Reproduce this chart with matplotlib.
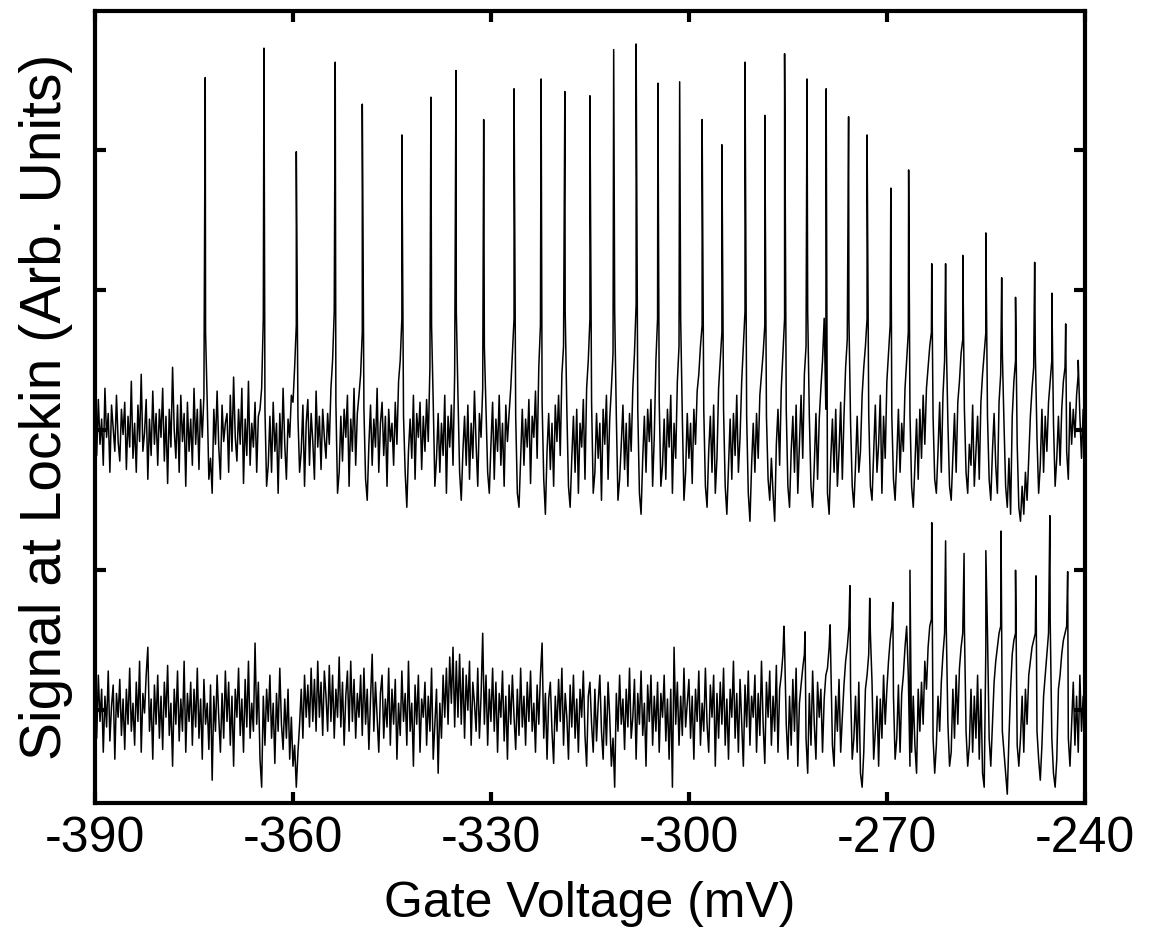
import numpy as np
import matplotlib
matplotlib.use("Agg")
import matplotlib.pyplot as plt

plt.rcParams["font.family"] = ["Liberation Sans", "DejaVu Sans"]

# sweep: gate voltage in mV, 0.25 mV steps
x_start, x_stop = -390.0, -240.0

# upper trace: noise (hundredths, around its own baseline) + resonance peaks
upper_base = 2.0
upper_noise = [
    5, -18, 22, -10, 8, -25, 30, -5, 12, -30, 18, 2, -15, 25, -8, -22, 15, -3, 20, -28,
    10, -12, 35, -20, 5, -30, 18, -8, 40, -15, -2, 22, -35, 8, -18, 28, -10, 12, -25, 15,
    -5, 30, -22, 10, -38, 15, -12, 45, 0, -20, 18, -30, 25, -8, 12, -40, 20, -15, 8, -25,
    30, -10, 15, -28, 22, -5, 25, 70, 20, -35, -20, -45, 15, -10, 28, -12, -35, 18, -8, 5,
    12, -30, 25, -15, 38, -5, -22, 15, -10, 30, -38, 8, -18, 35, -25, 5, -12, 20, -30, 10,
    15, 30, 80, 15, -40, -25, 10, -30, 20, -15, 5, -45, 12, -20, 30, -10, -35, 8, -5, 25,
    20, 45, 75, 10, -30, -15, 18, -40, 5, 22, -25, 12, -8, -35, 28, -12, 10, -28, 15, -5,
    -20, 12, -10, 30, 50, 85, 20, -45, -30, 10, -22, 15, -5, 25, -40, 8, -15, 30, -25, 12,
    25, 40, 70, 15, -35, -50, -10, 18, -25, 8, -12, 30, -30, 5, 20, -18, 10, -40, 15, -8,
    5, -25, 20, -10, 35, 50, 80, 10, -30, -55, -15, 8, -20, 25, -35, 12, -5, 20, -28, 10,
    -15, 22, -8, 45, 75, 20, -40, -20, 12, -30, 5, -18, 25, -45, 10, -12, 18, -25, 40, 85,
    25, -30, -50, -15, 10, -25, 18, -35, 5, -20, 28, -10, -40, 12, -5, 30, 60, 15, -30, -45,
    -10, 20, -35, 8, -15, 25, -25, 5, -40, 18, -8, 12, 30, 55, 80, 10, -45, -55, -20, 15,
    -25, 8, -12, 22, -38, 10, -5, 28, -20, 45, 75, 20, -35, -60, -15, 12, -28, 5, -40, 18,
    -8, 25, -18, 40, 60, 85, 15, -40, -55, -20, 10, -30, 15, -45, 5, -12, 22, -35, 30, 50,
    80, 20, -45, -30, 12, -20, 5, -50, 15, -10, 25, -35, 8, 30, 55, 85, 10, -50, -35, -10,
    18, -28, 5, -40, 12, -15, 30, 55, 90, 15, -45, -60, -20, 10, -30, 15, -8, 22, -40, -5,
    50, 80, 20, -40, -25, 8, -35, 15, -12, 25, -45, 5, -20, 35, 60, 80, 10, -50, -30, 12,
    -20, 5, -38, 15, -10, 28, 40, 60, 75, 15, -40, -55, -15, 10, -30, 18, -45, -20, 30, 50,
    70, 15, -40, -60, -25, 8, -35, 12, -18, 25, -30, -5, 35, 60, 85, 10, -45, -65, -25, 5,
    -30, 12, -20, 25, 40, 55, 75, 10, -35, -50, -20, -45, -65, -10, 15, -25, 30, 55, 80, 15,
    -40, -55, -15, 10, -30, 18, -45, -10, 25, -20, 40, 60, 85, 10, -40, -55, -25, 12, -35, 8,
    30, 50, 80, 15, -45, -60, -20, 8, -30, 15, -40, -15, 20, -35, 10, 45, 65, 80, 5, -40,
    -55, -25, 10, -30, -15, 25, 45, 60, 80, 12, -40, -50, -15, 18, -30, -10, 25, -45, 10, -20,
    35, 55, 75, 10, -35, -50, -20, 15, -30, 5, -15, 30, 50, 70, 12, -40, -55, -25, 8, -35,
    15, -20, 25, -10, 30, 45, 60, 70, 10, -35, -45, -15, 20, -30, 25, 50, 65, 5, -40, -50,
    -20, 12, -30, 20, 35, 55, 65, 15, -30, -45, -10, -25, 18, -40, -15, 10, -35, 20, 40, 55,
    70, 10, -35, -50, -15, 12, -25, -45, 20, 40, 55, 5, -40, -55, -20, -60, 10, 35, 50, -10,
    -55, -65, -40, -60, -30, -50, -20, 10, 30, 45, 55, -5, -45, -25, 15, -30, 10, -15, 20, 35,
    50, 5, -40, -20, 10, -25, 15, 35, 45, -15, -35, 20, -10, 15, -5, 25, 40, 10, -20, 15,
    5,
]
upper_peak_x = [-373.3, -364.4, -359.5, -353.6, -349.5, -343.5, -339.1, -335.3, -331.1,
                -326.5, -322.4, -318.8, -315.0, -311.4, -308.0, -304.7, -301.4, -298.0,
                -295.0, -291.5, -288.5, -285.5, -282.1, -279.2, -275.8, -273.0, -269.4,
                -266.7, -263.2, -261.1, -258.5, -255.0, -252.6, -250.5, -247.6, -245.0,
                -242.9, -241.0]
upper_peak_y = [4.52, 4.73, 3.99, 4.63, 4.33, 4.11, 4.38, 4.57, 4.22,
                4.44, 4.51, 4.42, 4.39, 4.72, 4.76, 4.48, 4.49, 4.22,
                4.04, 4.63, 4.25, 4.69, 4.51, 4.44, 4.24, 4.11, 3.73,
                3.86, 3.19, 3.19, 3.25, 3.41, 3.09, 2.95, 3.20, 2.98,
                2.76, 2.50]

# lower trace
lower_base = 0.0
lower_noise = [
    5, -20, 25, -8, 15, -30, 10, -12, 28, -22, 3, 18, -35, 12, -5, 22, -18, 8, -28, 15,
    -10, 30, -15, 5, -25, 20, -8, 35, -30, 12, -2, 25, 45, -15, 8, -35, 18, -10, 25, -20,
    10, -28, 20, -5, 32, -18, 5, -40, 15, -10, 28, -22, 8, -15, 35, -30, 12, -8, 20, -25,
    15, -12, 30, -20, 8, -35, 22, -10, 5, -28, 18, -50, 10, -15, 25, -5, -30, 12, -20, 28,
    -8, 20, -25, 10, -40, 15, -5, 30, -18, 8, -30, 22, -12, 35, -20, 5, -15, 48, -10, 20,
    -35, -55, 10, -25, 15, -8, 25, -20, 5, -38, 12, -15, 30, -10, -28, 8, -20, 15, -35, -5,
    -40, -25, -55, -30, -10, 15, -20, 25, -5, 18, -12, 30, -8, 22, -15, 35, -5, 20, -18, 28,
    10, -15, 32, -8, 25, -20, 15, -5, 38, -12, 20, -25, 10, 28, -15, 35, -8, 22, -20, 12,
    -5, 25, -18, 30, -10, 15, -28, 8, 40, -15, 20, -5, -30, 12, 25, -20, 8, -12, 30, -25,
    15, -10, 22, -35, 5, -18, 28, -8, 12, -25, 35, -15, 5, -40, 18, -10, 25, -30, 8, -5,
    20, -25, 10, -15, 30, -35, -10, 15, -45, 5, -20, 25, -5, 30, -10, 38, 5, 45, -12, 35,
    -5, 40, -10, 30, -20, 25, 0, 35, -25, 20, 5, -15, 30, -20, 10, 55, -10, 25, -25, 15,
    -8, 30, -15, 20, -30, 12, -5, 28, -22, 10, -35, 18, -10, 25, -5, -28, 15, -18, 30, -12,
    10, -25, 20, -8, 28, -15, 5, -30, 18, -10, 25, 48, -20, 12, -35, 8, 20, -15, -38, 10,
    -15, 22, -8, 30, -25, 12, -5, -35, 18, -12, 25, -20, 8, -30, 15, -5, 28, -18, -40, 10,
    20, -10, -30, 15, -22, 5, 25, -15, -35, 10, -25, 20, -5, -40, -20, -55, 12, -15, 25, -10,
    8, -28, 15, -12, 30, -20, -5, 22, -35, 12, -10, 28, -18, 5, -40, 18, -8, 25, -25, 10,
    -15, 20, -30, 12, -5, 25, -22, 8, -35, 15, -55, 45, -10, 20, -25, 10, -18, 30, -12, 5,
    22, -20, 10, -35, 15, -8, 28, -25, 5, -15, 30, -10, -30, 18, -5, 25, -40, 12, -20, 20,
    -10, 30, -25, 8, -35, 15, -5, 35, -20, 12, -30, 22, -8, -40, 18, -12, 28, -25, 10, -5,
    25, -30, 12, -18, 35, -10, -38, 20, -5, 28, -25, 10, -15, 32, -30, 15, 25, 40, 45, -10,
    -35, 10, -25, 22, -15, 30, -40, 5, 18, 30, 40, -20, -45, 12, -25, 28, -10, -35, 20, -5,
    15, -30, 8, 25, 30, 45, 35, -25, -40, 10, -15, 22, -30, -5, 18, 35, 45, 60, 15, -35,
    -20, 10, -30, 20, -45, -55, -30, 15, 25, 40, 55, 20, -35, -15, 10, -40, 8, -20, 25, -10,
    15, 35, 50, 60, 10, -35, -20, 18, -30, 12, 25, 45, 60, 25, -40, -30, 10, -25, -45, 15,
    -15, 20, -10, 35, 15, 45, 60, 65, -20, -45, -25, 10, -15, 20, 40, 55, 60, -10, -40, -30,
    15, -20, 25, -10, 30, 45, 55, 60, -15, -40, -25, 15, -30, 10, -20, 25, -35, 15, -45, -55,
    45, 55, -20, -40, -10, 20, 35, 45, 55, 60, -15, -30, -45, -60, -20, 15, 40, 50, 55, -25,
    -40, -20, 10, -30, 15, -10, 25, 35, 45, 50, 55, -15, -35, -50, -25, 10, 25, 40, 55, 65,
    -20, -45, -55, -35, 15, 25, 40, 50, 55, 60, -20, -40, -10, 20, -25, 10, -30, 25, -15, 10,
    5,
]
lower_peak_x = [-285.6, -282.4, -278.6, -275.6, -272.6, -269.1, -266.5, -263.2,
                -261.1, -258.3, -255.0, -252.7, -250.5, -247.4, -245.3, -242.6]
lower_peak_y = [0.60, 0.56, 0.61, 0.89, 0.80, 0.77, 1.00, 1.34,
                1.21, 1.12, 1.14, 1.28, 1.00, 0.96, 1.39, 0.99]

x_ticks = [-390, -360, -330, -300, -270, -240]
y_ticks = [0, 1, 2, 3, 4]


def build_trace(noise, base, px, py):
    grid = np.linspace(x_start, x_stop, len(noise))
    xs = np.concatenate([grid, px])
    ys = np.concatenate([base + np.asarray(noise) / 100.0, py])
    order = np.argsort(xs, kind="stable")
    return xs[order], ys[order]


xu, yu = build_trace(upper_noise, upper_base, upper_peak_x, upper_peak_y)
xl, yl = build_trace(lower_noise, lower_base, lower_peak_x, lower_peak_y)

fig = plt.figure(figsize=(11.59, 9.46), dpi=100)
ax = fig.add_axes([0.082, 0.151, 0.854, 0.837])
ax.plot(xu, yu, color="black", lw=1.1)
ax.plot(xl, yl, color="black", lw=1.1)

ax.set_xlim(x_start, x_stop)
ax.set_ylim(-0.664, 4.993)
ax.set_xticks(x_ticks)
ax.set_xticklabels([str(t) for t in x_ticks])
ax.set_yticks(y_ticks)
ax.set_yticklabels([])
ax.tick_params(direction="in", length=8, width=3, top=True, right=True,
               labelsize=36, pad=9)
for s in ax.spines.values():
    s.set_linewidth(3)

ax.set_xlabel("Gate Voltage (mV)", fontsize=36, labelpad=14)
ax.set_ylabel("Signal at Lockin (Arb. Units)", fontsize=41, labelpad=7)

fig.savefig("out.png", dpi=100)
